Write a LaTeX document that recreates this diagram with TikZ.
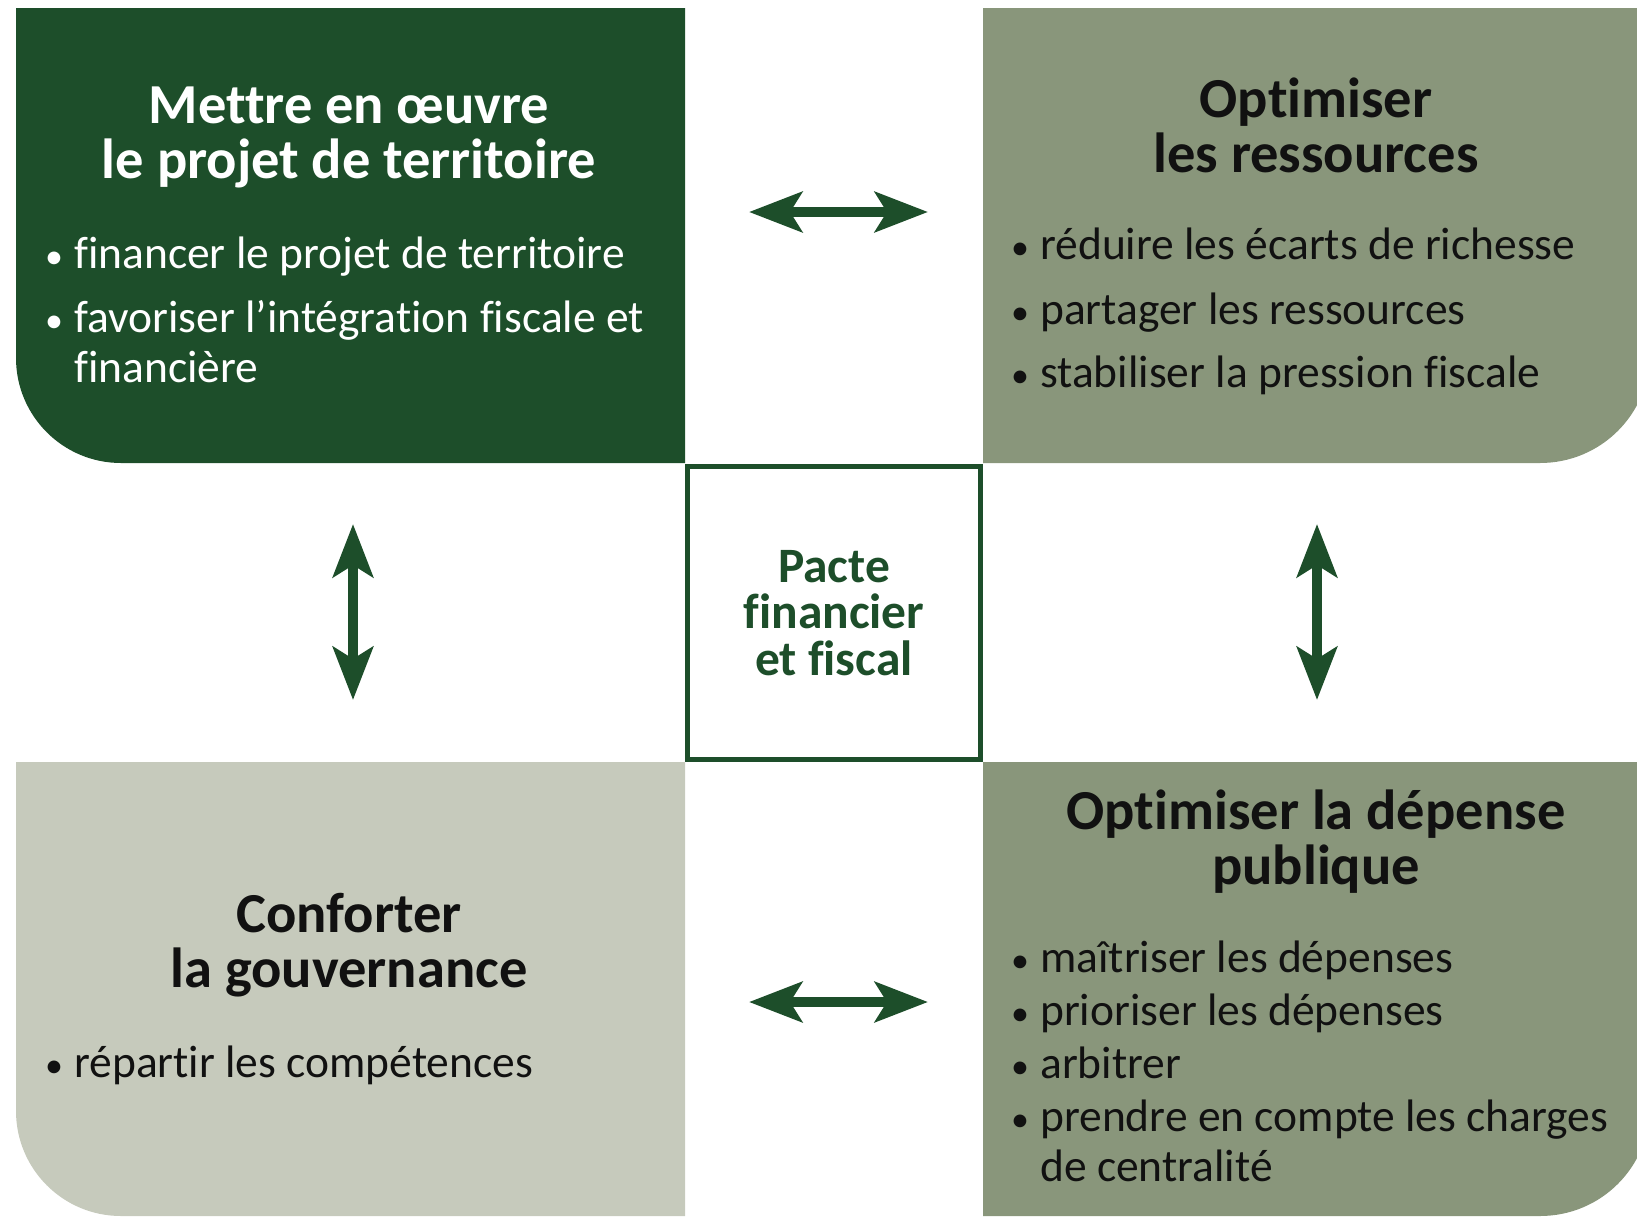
\documentclass[tikz,border=0pt]{standalone}
\usepackage{fontspec}
\setmainfont{Carlito}[Ligatures=NoCommon]
\usetikzlibrary{positioning,arrows.meta}
\definecolor{colordark}  {RGB}{ 29, 78, 42}
\definecolor{colormid}   {RGB}{137,150,123}
\definecolor{colorlight} {RGB}{198,202,188}
\definecolor{colortext}  {RGB}{ 17, 17, 17}

\newcommand{\stacklines}[1]{\begin{tabular}[t]{@{}c@{}}#1\end{tabular}}
\newcommand{\itemlines}[1]{\begin{tabular}[t]{@{}p{30pt}@{}l@{}}#1\end{tabular}}
\newcommand{\bul}{\hspace{1pt}{\fontsize{36}{36}\selectfont\textbullet}}

\begin{document}
\begin{tikzpicture}[
    x=1pt, y=-1pt,
    font={\fontsize{45.5}{50}\selectfont},
    heading/.style={anchor=base,inner sep=0pt,font={\fontsize{56.5}{52}\selectfont\bfseries}},
    items/.style={anchor=base west,inner sep=0pt},
    pair/.style={colordark,line width=10pt,{Stealth[length=53pt,width=40pt,inset=12pt]}-{Stealth[length=53pt,width=40pt,inset=12pt]}},
]
    \useasboundingbox (0,0) rectangle (1637,1218);
    \clip (0,0) rectangle (1637,1218);

    % quadrants
    \fill[colordark]  (16,8) -- (685,8) -- (685,463) -- (121,463) .. controls (63,463) and (16,416) .. (16,358) -- cycle;
    \fill[colormid]   (983,8) -- (1650,8) -- (1650,353) .. controls (1650,414) and (1601,463) .. (1540,463) -- (983,463) -- cycle;
    \fill[colorlight] (16,762) -- (685,762) -- (685,1216) -- (121,1216) .. controls (63,1216) and (16,1169) .. (16,1111) -- cycle;
    \fill[colormid]   (983,762) -- (1650,762) -- (1650,1106) .. controls (1650,1167) and (1601,1216) .. (1540,1216) -- (983,1216) -- cycle;

    \node[heading,text=white]     (projet)   at (349,123)  {\stacklines{Mettre en œuvre\\le projet de territoire}};
    \node[items,text=white]       (projetli) at (44,268)   {\itemlines{\bul & financer le projet de territoire\\[14pt]
                                                                        \bul & favoriser l’intégration fiscale et\\
                                                                             & financière}};

    \node[heading,text=colortext] (ressources)   at (1316,117) {\stacklines{Optimiser\\les ressources}};
    \node[items,text=colortext]   (ressourcesli) at (1010,259) {\itemlines{\bul & réduire les écarts de richesse\\[15pt]
                                                                            \bul & partager les ressources\\[13pt]
                                                                            \bul & stabiliser la pression fiscale}};

    \node[heading,text=colortext] (gouvernance)   at (349,932)  {\stacklines{Conforter\\la gouvernance}};
    \node[items,text=colortext]   (gouvernanceli) at (44,1077)  {\itemlines{\bul & répartir les compétences}};

    \node[heading,text=colortext] (depense)   at (1316,829) {\stacklines{Optimiser la dépense\\publique}};
    \node[items,text=colortext]   (depenseli) at (1010,972) {\itemlines{\bul & maîtriser les dépenses\\[3pt]
                                                                       \bul & prioriser les dépenses\\[3pt]
                                                                       \bul & arbitrer\\[3pt]
                                                                       \bul & prendre en compte les charges\\
                                                                            & de centralité}};

    \node[draw=colordark,line width=5pt,minimum size=293pt,inner sep=0pt,align=center,
          text=colordark,font={\fontsize{49.5}{46.5}\selectfont\bfseries}] (pacte) at (834,613) {Pacte\\financier\\et fiscal};

    % arrows
    \coordinate (topl) at (749,212);  \coordinate (topr) at (928,212);
    \coordinate (botl) at (749,1002); \coordinate (botr) at (928,1002);
    \coordinate (lefu) at (353,524);  \coordinate (lefd) at (353,700);
    \coordinate (rigu) at (1317,524); \coordinate (rigd) at (1317,700);
    \draw[pair] (topl) -- (topr);
    \draw[pair] (botl) -- (botr);
    \draw[pair] (lefu) -- (lefd);
    \draw[pair] (rigu) -- (rigd);
\end{tikzpicture}
\end{document}
